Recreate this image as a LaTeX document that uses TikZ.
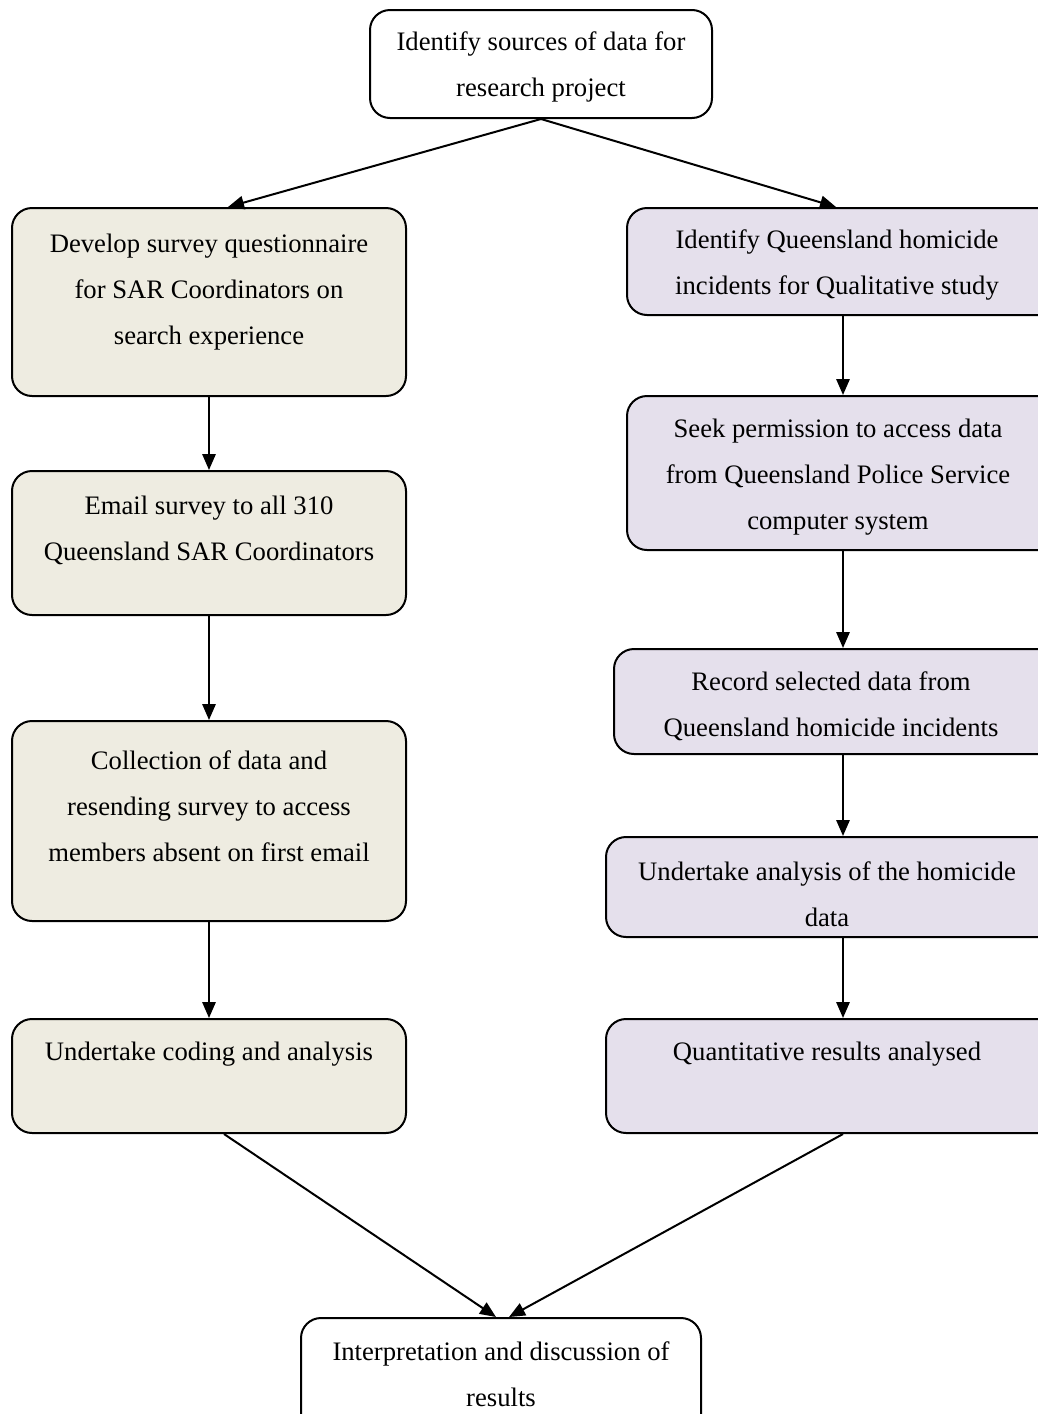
\documentclass[tikz,border=0pt]{standalone}
\usepackage{fontspec}
\setmainfont{Liberation Serif}
\usetikzlibrary{fit,arrows.meta}
\definecolor{tanfill}{HTML}{EEECE1}
\definecolor{lilacfill}{HTML}{E5E0EC}
\begin{document}
\begin{tikzpicture}[x=0.75pt,y=-0.75pt,
  box/.style={draw=black, line width=1.5pt, rounded corners=15pt, inner sep=0pt},
  plainbox/.style={box, fill=white},
  leftbox/.style={box, fill=tanfill},
  rightbox/.style={box, fill=lilacfill},
  txt/.style={align=center, inner sep=0pt, font=\fontsize{20pt}{34.5pt}\selectfont},
  arr/.style={line width=1.5pt, -{Triangle[length=12pt,width=10pt]}}]
\clip (0,0) rectangle (1038,1414);

% top box
\node[plainbox, fit={(370,10) (712,118)}] (top) {};
\node[txt] (topt) at (541,67) {Identify sources of data for\\research project};

% survey branch
\node[leftbox, fit={(12,208) (406,396)}] (l1) {};
\node[txt] (l1t) at (209,292) {Develop survey questionnaire\\for SAR Coordinators on\\search experience};
\node[leftbox, fit={(12,471) (406,615)}] (l2) {};
\node[txt] (l2t) at (209,530) {Email survey to all 310\\Queensland SAR Coordinators};
\node[leftbox, fit={(12,721) (406,921)}] (l3) {};
\node[txt] (l3t) at (209,806) {Collection of data and\\resending survey to access\\members absent on first email};
\node[leftbox, fit={(12,1019) (406,1133)}] (l4) {};
\node[txt] (l4t) at (209,1054) {Undertake coding and analysis};

% homicide data branch
\node[rightbox, fit={(627,208) (1060,315)}] (r1) {};
\node[txt] (r1t) at (837,265) {Identify Queensland homicide\\incidents for Qualitative study};
\node[rightbox, fit={(627,396) (1060,550)}] (r2) {};
\node[txt] (r2t) at (838,477) {Seek permission to access data\\from Queensland Police Service\\computer system};
\node[rightbox, fit={(614,649) (1060,754)}] (r3) {};
\node[txt] (r3t) at (831,706) {Record selected data from\\Queensland homicide incidents};
\node[rightbox, fit={(606,837) (1060,937)}] (r4) {};
\node[txt] (r4t) at (827,894) {Undertake analysis of the homicide\\data};
\node[rightbox, fit={(606,1019) (1060,1133)}] (r5) {};
\node[txt] (r5t) at (827,1054) {Quantitative results analysed};

% final box
\node[plainbox, fit={(301,1318) (701,1440)}] (fin) {};
\node[txt] (fint) at (501,1374) {Interpretation and discussion of\\results};

% connectors
\draw[arr] (top.south) -- (228,0 |- l1.north);
\draw[arr] (top.south) -- (836,0 |- r1.north);
\draw[arr] (l1.south) -- (l2.north);
\draw[arr] (l2.south) -- (l3.north);
\draw[arr] (l3.south) -- (l4.north);
\draw[arr] (843,0 |- r1.south) -- (843,0 |- r2.north);
\draw[arr] (843,0 |- r2.south) -- (843,0 |- r3.north);
\draw[arr] (843,0 |- r3.south) -- (843,0 |- r4.north);
\draw[arr] (843,0 |- r4.south) -- (843,0 |- r5.north);
\draw[arr] (224,0 |- l4.south) -- (496,0 |- fin.north);
\draw[arr] (843,0 |- r5.south) -- (509,0 |- fin.north);
\end{tikzpicture}
\end{document}
